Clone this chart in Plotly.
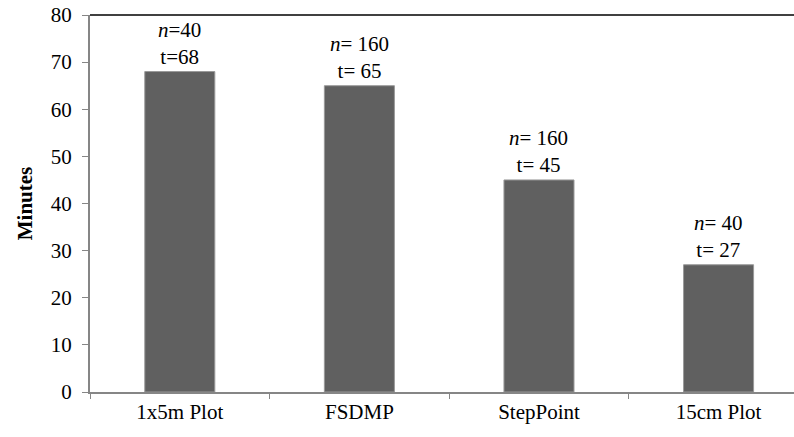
import plotly.graph_objects as go

categories = ["1x5m Plot", "FSDMP", "StepPoint", "15cm Plot"]
minutes = [68, 65, 45, 27]
n_labels = ["<i>n</i>=40", "<i>n</i>= 160", "<i>n</i>= 160", "<i>n</i>= 40"]
t_labels = ["t=68", "t= 65", "t= 45", "t= 27"]
y_ticks = [0, 10, 20, 30, 40, 50, 60, 70, 80]

FONT = "Liberation Serif, serif"

fig = go.Figure()
fig.add_trace(go.Bar(
    x=categories, y=minutes,
    marker=dict(color="#606060", line=dict(color="#9a9a9a", width=1)),
    width=0.39,
))

for c, v, n, t in zip(categories, minutes, n_labels, t_labels):
    fig.add_annotation(x=c, y=v, text=f"{n}<br>{t}", showarrow=False,
                       yanchor="bottom", yshift=1,
                       font=dict(family=FONT, size=21, color="black"))

fig.add_shape(type="line", xref="paper", yref="paper", x0=0, x1=1, y0=1, y1=1,
              line=dict(color="#404040", width=2))

fig.update_layout(
    width=794, height=437,
    margin=dict(l=90, r=0, t=15, b=45),
    plot_bgcolor="white", paper_bgcolor="white",
    showlegend=False,
    font=dict(family=FONT, size=21, color="black"),
    xaxis=dict(range=[-0.5, 3.42], showline=True, linecolor="#868686", linewidth=2,
               ticks="outside", tickson="boundaries", ticklen=5, tickcolor="#868686",
               showgrid=False, zeroline=False, automargin=False,
               tickfont=dict(family=FONT, size=21, color="black")),
    yaxis=dict(range=[0, 80], tickvals=y_ticks, showline=True, linecolor="#868686",
               linewidth=2, ticks="outside", ticklen=6, tickcolor="#868686",
               showgrid=False, zeroline=False, automargin=False,
               ticklabeloverflow="allow",
               tickfont=dict(family=FONT, size=21, color="black"),
               ticklabelstandoff=6,
               title=dict(text="<b>Minutes</b>", font=dict(family=FONT, size=21, color="black"),
                          standoff=12)),
)

fig.write_html("out.html", config={"displayModeBar": False},
               post_script="document.body.style.margin='0';")
